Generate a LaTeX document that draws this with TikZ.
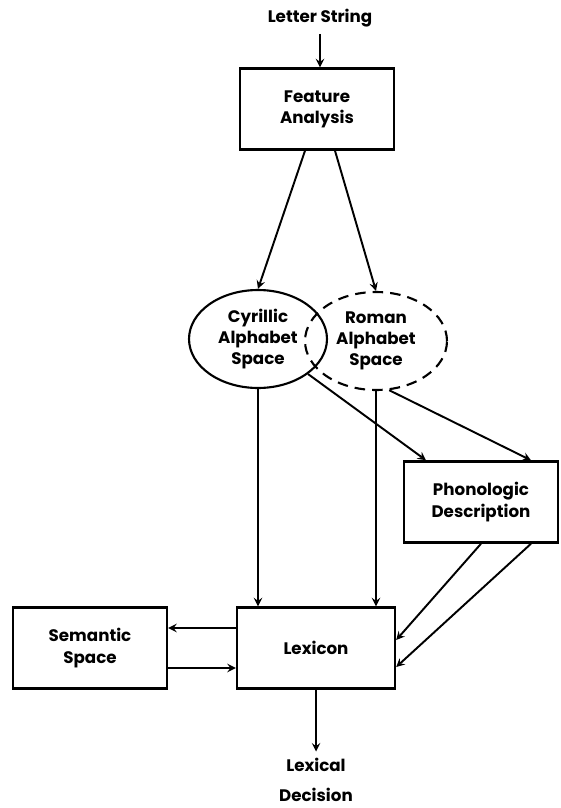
\documentclass[tikz,border=0pt]{standalone}
\usepackage{fontspec}
\setmainfont{Poppins}
\usetikzlibrary{shapes.geometric}

\tikzset{
  box/.style={draw, line width=1.4pt, align=center, minimum width=3.08cm, minimum height=1.62cm},
  space/.style={ellipse, draw, line width=1.2pt, align=center, inner sep=0pt},
  lbl/.style={align=center}
}

\begin{document}
\begin{tikzpicture}[>=stealth, line width=1.1pt, x=0.02cm, y=-0.02cm,
  font=\fontsize{9.5}{12}\selectfont\bfseries]

\useasboundingbox (0,0) rectangle (561,808);

\node[lbl] (letters) at (320,18) {Letter String};
\node[box] (feature) at (317,109) {Feature\\Analysis};

\node[space, minimum width=2.76cm, minimum height=1.96cm] (cyrillic) at (258,339) {Cyrillic\\Alphabet\\Space};
\node[space, dashed, dash pattern=on 6pt off 4pt, minimum width=2.84cm, minimum height=1.96cm] (roman) at (376,341) {Roman\\Alphabet\\Space};

\node[box] (phono) at (481,502) {Phonologic\\Description};
\node[box] (semantic) at (90,648) {Semantic\\Space};
\node[box, minimum width=3.16cm] (lexicon) at (316,648) {Lexicon};
\node[lbl, font=\fontsize{9.5}{17}\selectfont\bfseries] (decision) at (316,780) {Lexical\\Decision};

\draw[->] (letters.south) -- (letters.south |- feature.north);
\draw[->] ([xshift=-0.24cm]feature.south) -- (cyrillic.north);
\draw[->] ([xshift=0.36cm]feature.south) -- (roman.north);

\draw[->] (cyrillic.south) -- (cyrillic.south |- lexicon.north);
\draw[->] (roman.south) -- (roman.south |- lexicon.north);

\draw[->] (cyrillic.-35) -- ([xshift=-1.1cm]phono.north);
\draw[->] (roman.-75) -- ([xshift=1cm]phono.north);

\draw[->] (phono.south) -- ([yshift=0.16cm]lexicon.east);
\draw[->] ([xshift=1cm]phono.south) -- ([yshift=-0.38cm]lexicon.east);

\draw[->] ([yshift=0.4cm]lexicon.west) -- ([yshift=0.4cm]lexicon.west -| semantic.east);
\draw[->] ([yshift=-0.4cm]semantic.east) -- ([yshift=-0.4cm]semantic.east -| lexicon.west);

\draw[->] (lexicon.south) -- (decision.north);

\end{tikzpicture}
\end{document}
